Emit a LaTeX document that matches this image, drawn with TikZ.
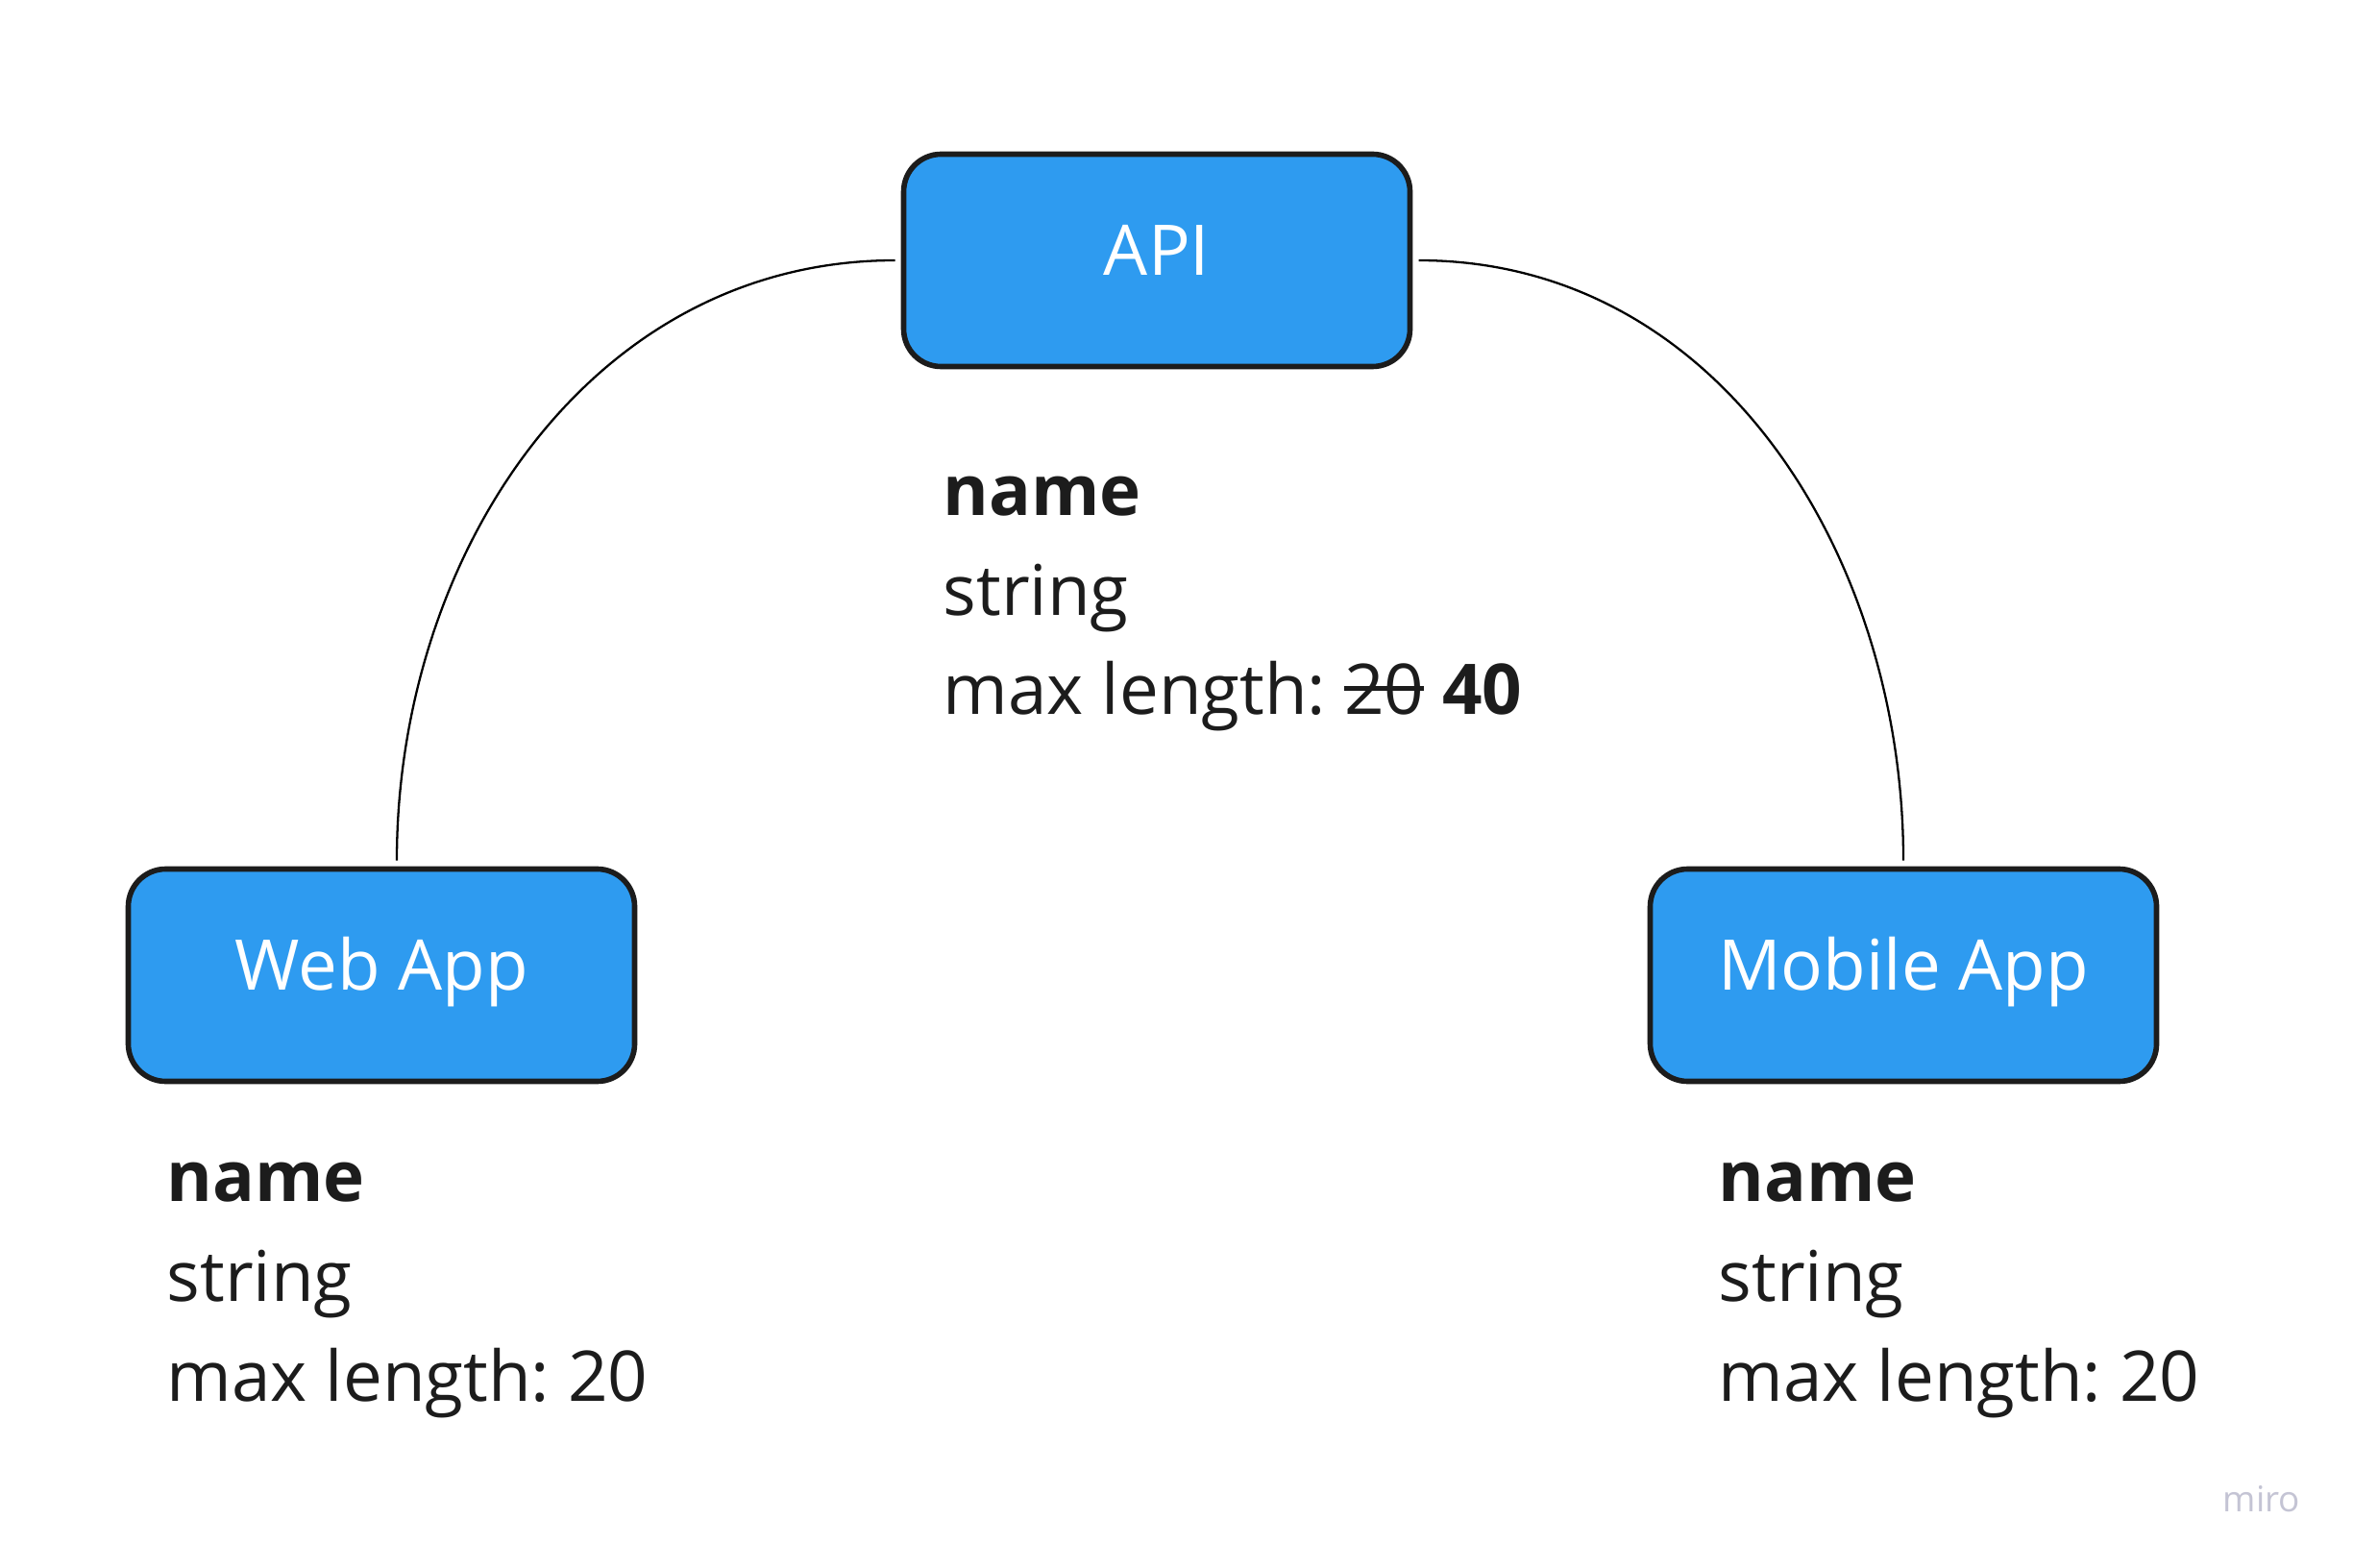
\documentclass[tikz,border=0pt]{standalone}
\usepackage{fontspec}
\setmainfont{Open Sans}
\usepackage{xcolor}
\usetikzlibrary{positioning,calc}
\definecolor{boxblue}{RGB}{46,155,240}
\definecolor{inkgray}{RGB}{28,28,28}
\definecolor{mirogray}{RGB}{196,196,212}
\newsavebox{\struckbox}
\newcommand{\struck}[1]{\sbox{\struckbox}{#1}\rlap{\rule[0.34em]{\wd\struckbox}{0.07em}}\usebox{\struckbox}}
\frenchspacing

\begin{document}
\begin{tikzpicture}[
    box/.style={draw=inkgray, line width=1.6pt, fill=boxblue, rounded corners=0.39cm,
      minimum width=5.27cm, minimum height=2.21cm, text=white,
      font=\fontsize{20.7}{25}\selectfont, text height=1.1em, text depth=0.24em,
      outer sep=0.09cm},
    note/.style={anchor=base west, align=left, text=inkgray, inner sep=0pt,
      font=\fontsize{20.7}{29.5}\selectfont},
    link/.style={draw=black, line width=0.65pt}
  ]
  \fill[white] (0,0) rectangle (24.49,-16.32);
  \useasboundingbox (0,0) rectangle (24.49,-16.32);
  % boxes
  \node[box] (api) at (12.04,-2.71) {API};
  \node[box] (web) at (3.97,-10.15) {Web App};
  \node[box] (mobile) at (19.81,-10.15) {Mobile App};
  % field notes
  \node[note] (apinote) at (9.81,-7.44) {\textbf{name}\\string\\max length: \struck{20} \textbf{40}};
  \node[note] (webnote) at (1.73,-14.58) {\textbf{name}\\string\\max length: 20};
  \node[note] (mobilenote) at (17.88,-14.58) {\textbf{name}\\string\\max length: 20};
  % links
  \draw[link] (api.west) to[out=180,in=90] ([xshift=0.16cm]web.north);
  \draw[link] (api.east) to[out=0,in=90] (mobile.north);
  % watermark
  \node[anchor=base, text=mirogray, font=\fontsize{10.5}{12}\selectfont] (miro) at (23.54,-15.73) {miro};
\end{tikzpicture}
\end{document}
